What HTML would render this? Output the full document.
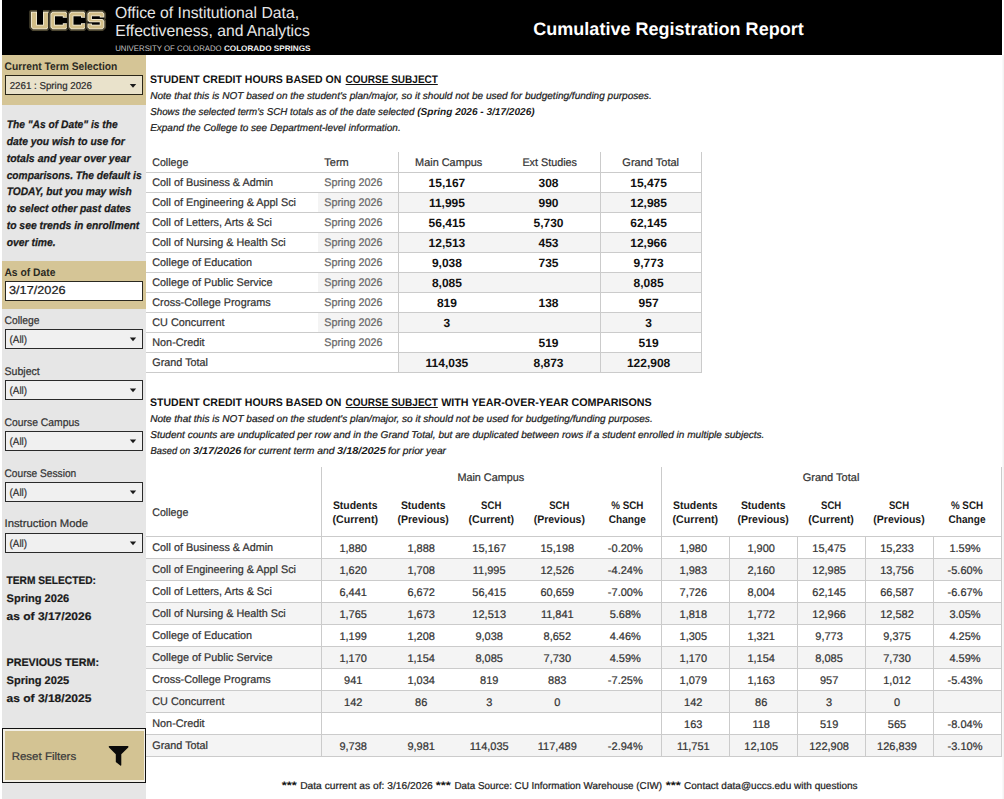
<!DOCTYPE html>
<html><head><meta charset="utf-8"><title>Cumulative Registration Report</title>
<style>
html,body{margin:0;padding:0;background:#fff;}
body{width:1004px;height:799px;overflow:hidden;}
svg{display:block;font-family:"Liberation Sans",sans-serif;}
</style></head><body>
<svg width="1004" height="799" viewBox="0 0 1004 799" text-rendering="geometricPrecision">
<rect x="2" y="0" width="1000" height="55" fill="#000" />
<path d="M28.70,11.80 L28.70,27.30 L28.71,27.53 L28.74,27.75 L28.80,27.97 L28.88,28.18 L28.97,28.38 L29.09,28.58 L29.22,28.76 L29.37,28.93 L31.37,30.93 L31.54,31.08 L31.72,31.21 L31.92,31.33 L32.12,31.42 L32.33,31.50 L32.55,31.56 L32.77,31.59 L33.00,31.60 L46.70,31.60 L46.93,31.59 L47.15,31.56 L47.37,31.50 L47.58,31.42 L47.78,31.33 L47.98,31.21 L48.16,31.08 L48.33,30.93 L50.33,28.93 L50.48,28.76 L50.61,28.58 L50.73,28.38 L50.82,28.18 L50.90,27.97 L50.96,27.75 L50.99,27.53 L51.00,27.30 L51.00,11.80 L50.99,11.57 L50.96,11.35 L50.90,11.13 L50.82,10.92 L50.73,10.72 L50.61,10.52 L50.48,10.34 L50.33,10.17 L50.16,10.02 L49.98,9.89 L49.78,9.77 L49.58,9.68 L49.37,9.60 L49.15,9.54 L48.93,9.51 L48.70,9.50 L43.00,9.50 L42.77,9.51 L42.55,9.54 L42.33,9.60 L42.12,9.68 L41.92,9.77 L41.72,9.89 L41.54,10.02 L41.37,10.17 L41.22,10.34 L41.09,10.52 L40.97,10.72 L40.88,10.92 L40.80,11.13 L40.74,11.35 L40.71,11.57 L40.70,11.80 L40.70,22.40 L39.30,22.40 L39.30,11.80 L39.29,11.57 L39.26,11.35 L39.20,11.13 L39.12,10.92 L39.03,10.72 L38.91,10.52 L38.78,10.34 L38.63,10.17 L38.46,10.02 L38.28,9.89 L38.08,9.77 L37.88,9.68 L37.67,9.60 L37.45,9.54 L37.23,9.51 L37.00,9.50 L31.00,9.50 L30.77,9.51 L30.55,9.54 L30.33,9.60 L30.12,9.68 L29.92,9.77 L29.72,9.89 L29.54,10.02 L29.37,10.17 L29.22,10.34 L29.09,10.52 L28.97,10.72 L28.88,10.92 L28.80,11.13 L28.74,11.35 L28.71,11.57 Z" fill="#050505"/>
<path d="M29.30,11.80 L29.30,27.30 L29.31,27.47 L29.33,27.63 L29.37,27.79 L29.43,27.95 L29.50,28.10 L29.59,28.24 L29.69,28.38 L29.80,28.50 L31.80,30.50 L31.92,30.61 L32.06,30.71 L32.20,30.80 L32.35,30.87 L32.51,30.93 L32.67,30.97 L32.83,30.99 L33.00,31.00 L46.70,31.00 L46.87,30.99 L47.03,30.97 L47.19,30.93 L47.35,30.87 L47.50,30.80 L47.64,30.71 L47.78,30.61 L47.90,30.50 L49.90,28.50 L50.01,28.38 L50.11,28.24 L50.20,28.10 L50.27,27.95 L50.33,27.79 L50.37,27.63 L50.39,27.47 L50.40,27.30 L50.40,11.80 L50.39,11.63 L50.37,11.47 L50.33,11.31 L50.27,11.15 L50.20,11.00 L50.11,10.86 L50.01,10.72 L49.90,10.60 L49.78,10.49 L49.64,10.39 L49.50,10.30 L49.35,10.23 L49.19,10.17 L49.03,10.13 L48.87,10.11 L48.70,10.10 L43.00,10.10 L42.83,10.11 L42.67,10.13 L42.51,10.17 L42.35,10.23 L42.20,10.30 L42.06,10.39 L41.92,10.49 L41.80,10.60 L41.69,10.72 L41.59,10.86 L41.50,11.00 L41.43,11.15 L41.37,11.31 L41.33,11.47 L41.31,11.63 L41.30,11.80 L41.30,23.00 L38.70,23.00 L38.70,11.80 L38.69,11.63 L38.67,11.47 L38.63,11.31 L38.57,11.15 L38.50,11.00 L38.41,10.86 L38.31,10.72 L38.20,10.60 L38.08,10.49 L37.94,10.39 L37.80,10.30 L37.65,10.23 L37.49,10.17 L37.33,10.13 L37.17,10.11 L37.00,10.10 L31.00,10.10 L30.83,10.11 L30.67,10.13 L30.51,10.17 L30.35,10.23 L30.20,10.30 L30.06,10.39 L29.92,10.49 L29.80,10.60 L29.69,10.72 L29.59,10.86 L29.50,11.00 L29.43,11.15 L29.37,11.31 L29.33,11.47 L29.31,11.63 Z" fill="#4c4631"/>
<rect x="37" y="8" width="6" height="16.7" fill="#000"/>
<path d="M31.00,11.80 L37.00,11.80 L37.00,24.70 L43.00,24.70 L43.00,11.80 L48.70,11.80 L48.70,27.30 L46.70,29.30 L33.00,29.30 L31.00,27.30 Z" fill="#f4efdc"/>
<path d="M31.80,12.60 L31.80,26.97 L33.33,28.50 L46.37,28.50 L47.90,26.97 L47.90,12.60 L43.80,12.60 L43.80,25.50 L36.20,25.50 L36.20,12.60 Z" fill="#d2be88"/>
<path d="M50.87,10.17 L48.87,12.17 L48.72,12.34 L48.59,12.52 L48.47,12.72 L48.38,12.92 L48.30,13.13 L48.24,13.35 L48.21,13.57 L48.20,13.80 L48.20,27.30 L48.21,27.53 L48.24,27.75 L48.30,27.97 L48.38,28.18 L48.47,28.38 L48.59,28.58 L48.72,28.76 L48.87,28.93 L50.87,30.93 L51.04,31.08 L51.22,31.21 L51.42,31.33 L51.62,31.42 L51.83,31.50 L52.05,31.56 L52.27,31.59 L52.50,31.60 L65.50,31.60 L65.73,31.59 L65.95,31.56 L66.17,31.50 L66.38,31.42 L66.58,31.33 L66.78,31.21 L66.96,31.08 L67.13,30.93 L69.13,28.93 L69.28,28.76 L69.41,28.58 L69.53,28.38 L69.62,28.18 L69.70,27.97 L69.76,27.75 L69.79,27.53 L69.80,27.30 L69.80,23.20 L69.79,22.97 L69.76,22.75 L69.70,22.53 L69.62,22.32 L69.53,22.12 L69.41,21.92 L69.28,21.74 L69.13,21.57 L68.96,21.42 L68.78,21.29 L68.58,21.17 L68.38,21.08 L68.17,21.00 L67.95,20.94 L67.73,20.91 L67.50,20.90 L62.80,20.90 L62.57,20.91 L62.35,20.94 L62.13,21.00 L61.92,21.08 L61.72,21.17 L61.52,21.29 L61.34,21.42 L61.17,21.57 L61.02,21.74 L60.89,21.92 L60.77,22.12 L60.68,22.32 L60.65,22.40 L57.20,22.40 L57.20,18.50 L60.61,18.50 L60.68,18.68 L60.77,18.88 L60.89,19.08 L61.02,19.26 L61.17,19.43 L61.34,19.58 L61.52,19.71 L61.72,19.83 L61.92,19.92 L62.13,20.00 L62.35,20.06 L62.57,20.09 L62.80,20.10 L67.50,20.10 L67.73,20.09 L67.95,20.06 L68.17,20.00 L68.38,19.92 L68.58,19.83 L68.78,19.71 L68.96,19.58 L69.13,19.43 L69.28,19.26 L69.41,19.08 L69.53,18.88 L69.62,18.68 L69.70,18.47 L69.76,18.25 L69.79,18.03 L69.80,17.80 L69.80,13.80 L69.79,13.57 L69.76,13.35 L69.70,13.13 L69.62,12.92 L69.53,12.72 L69.41,12.52 L69.28,12.34 L69.13,12.17 L67.13,10.17 L66.96,10.02 L66.78,9.89 L66.58,9.77 L66.38,9.68 L66.17,9.60 L65.95,9.54 L65.73,9.51 L65.50,9.50 L52.50,9.50 L52.27,9.51 L52.05,9.54 L51.83,9.60 L51.62,9.68 L51.42,9.77 L51.22,9.89 L51.04,10.02 Z" fill="#050505"/>
<path d="M51.30,10.60 L49.30,12.60 L49.19,12.72 L49.09,12.86 L49.00,13.00 L48.93,13.15 L48.87,13.31 L48.83,13.47 L48.81,13.63 L48.80,13.80 L48.80,27.30 L48.81,27.47 L48.83,27.63 L48.87,27.79 L48.93,27.95 L49.00,28.10 L49.09,28.24 L49.19,28.38 L49.30,28.50 L51.30,30.50 L51.42,30.61 L51.56,30.71 L51.70,30.80 L51.85,30.87 L52.01,30.93 L52.17,30.97 L52.33,30.99 L52.50,31.00 L65.50,31.00 L65.67,30.99 L65.83,30.97 L65.99,30.93 L66.15,30.87 L66.30,30.80 L66.44,30.71 L66.58,30.61 L66.70,30.50 L68.70,28.50 L68.81,28.38 L68.91,28.24 L69.00,28.10 L69.07,27.95 L69.13,27.79 L69.17,27.63 L69.19,27.47 L69.20,27.30 L69.20,23.20 L69.19,23.03 L69.17,22.87 L69.13,22.71 L69.07,22.55 L69.00,22.40 L68.91,22.26 L68.81,22.12 L68.70,22.00 L68.58,21.89 L68.44,21.79 L68.30,21.70 L68.15,21.63 L67.99,21.57 L67.83,21.53 L67.67,21.51 L67.50,21.50 L62.80,21.50 L62.63,21.51 L62.47,21.53 L62.31,21.57 L62.15,21.63 L62.00,21.70 L61.86,21.79 L61.72,21.89 L61.60,22.00 L61.49,22.12 L61.39,22.26 L61.30,22.40 L61.23,22.55 L61.17,22.71 L61.13,22.87 L61.11,23.00 L56.60,23.00 L56.60,17.90 L61.10,17.90 L61.11,17.97 L61.13,18.13 L61.17,18.29 L61.23,18.45 L61.30,18.60 L61.39,18.74 L61.49,18.88 L61.60,19.00 L61.72,19.11 L61.86,19.21 L62.00,19.30 L62.15,19.37 L62.31,19.43 L62.47,19.47 L62.63,19.49 L62.80,19.50 L67.50,19.50 L67.67,19.49 L67.83,19.47 L67.99,19.43 L68.15,19.37 L68.30,19.30 L68.44,19.21 L68.58,19.11 L68.70,19.00 L68.81,18.88 L68.91,18.74 L69.00,18.60 L69.07,18.45 L69.13,18.29 L69.17,18.13 L69.19,17.97 L69.20,17.80 L69.20,13.80 L69.19,13.63 L69.17,13.47 L69.13,13.31 L69.07,13.15 L69.00,13.00 L68.91,12.86 L68.81,12.72 L68.70,12.60 L66.70,10.60 L66.58,10.49 L66.44,10.39 L66.30,10.30 L66.15,10.23 L65.99,10.17 L65.83,10.13 L65.67,10.11 L65.50,10.10 L52.50,10.10 L52.33,10.11 L52.17,10.13 L52.01,10.17 L51.85,10.23 L51.70,10.30 L51.56,10.39 L51.42,10.49 Z" fill="#4c4631"/>
<rect x="54.9" y="16.2" width="12.6" height="8.5" fill="#000"/>
<path d="M52.50,11.80 L65.50,11.80 L67.50,13.80 L67.50,17.80 L62.80,17.80 L62.80,16.20 L54.90,16.20 L54.90,24.70 L62.80,24.70 L62.80,23.20 L67.50,23.20 L67.50,27.30 L65.50,29.30 L52.50,29.30 L50.50,27.30 L50.50,13.80 Z" fill="#f4efdc"/>
<path d="M52.83,12.60 L51.30,14.13 L51.30,26.97 L52.83,28.50 L65.17,28.50 L66.70,26.97 L66.70,24.00 L63.60,24.00 L63.60,25.50 L54.10,25.50 L54.10,15.40 L63.60,15.40 L63.60,17.00 L66.70,17.00 L66.70,14.13 L65.17,12.60 Z" fill="#d2be88"/>
<path d="M69.57,10.17 L67.57,12.17 L67.42,12.34 L67.29,12.52 L67.17,12.72 L67.08,12.92 L67.00,13.13 L66.94,13.35 L66.91,13.57 L66.90,13.80 L66.90,27.30 L66.91,27.53 L66.94,27.75 L67.00,27.97 L67.08,28.18 L67.17,28.38 L67.29,28.58 L67.42,28.76 L67.57,28.93 L69.57,30.93 L69.74,31.08 L69.92,31.21 L70.12,31.33 L70.32,31.42 L70.53,31.50 L70.75,31.56 L70.97,31.59 L71.20,31.60 L83.70,31.60 L83.93,31.59 L84.15,31.56 L84.37,31.50 L84.58,31.42 L84.78,31.33 L84.98,31.21 L85.16,31.08 L85.33,30.93 L87.33,28.93 L87.48,28.76 L87.61,28.58 L87.73,28.38 L87.82,28.18 L87.90,27.97 L87.96,27.75 L87.99,27.53 L88.00,27.30 L88.00,23.20 L87.99,22.97 L87.96,22.75 L87.90,22.53 L87.82,22.32 L87.73,22.12 L87.61,21.92 L87.48,21.74 L87.33,21.57 L87.16,21.42 L86.98,21.29 L86.78,21.17 L86.58,21.08 L86.37,21.00 L86.15,20.94 L85.93,20.91 L85.70,20.90 L81.00,20.90 L80.77,20.91 L80.55,20.94 L80.33,21.00 L80.12,21.08 L79.92,21.17 L79.72,21.29 L79.54,21.42 L79.37,21.57 L79.22,21.74 L79.09,21.92 L78.97,22.12 L78.88,22.32 L78.85,22.40 L75.70,22.40 L75.70,18.50 L78.81,18.50 L78.88,18.68 L78.97,18.88 L79.09,19.08 L79.22,19.26 L79.37,19.43 L79.54,19.58 L79.72,19.71 L79.92,19.83 L80.12,19.92 L80.33,20.00 L80.55,20.06 L80.77,20.09 L81.00,20.10 L85.70,20.10 L85.93,20.09 L86.15,20.06 L86.37,20.00 L86.58,19.92 L86.78,19.83 L86.98,19.71 L87.16,19.58 L87.33,19.43 L87.48,19.26 L87.61,19.08 L87.73,18.88 L87.82,18.68 L87.90,18.47 L87.96,18.25 L87.99,18.03 L88.00,17.80 L88.00,13.80 L87.99,13.57 L87.96,13.35 L87.90,13.13 L87.82,12.92 L87.73,12.72 L87.61,12.52 L87.48,12.34 L87.33,12.17 L85.33,10.17 L85.16,10.02 L84.98,9.89 L84.78,9.77 L84.58,9.68 L84.37,9.60 L84.15,9.54 L83.93,9.51 L83.70,9.50 L71.20,9.50 L70.97,9.51 L70.75,9.54 L70.53,9.60 L70.32,9.68 L70.12,9.77 L69.92,9.89 L69.74,10.02 Z" fill="#050505"/>
<path d="M70.00,10.60 L68.00,12.60 L67.89,12.72 L67.79,12.86 L67.70,13.00 L67.63,13.15 L67.57,13.31 L67.53,13.47 L67.51,13.63 L67.50,13.80 L67.50,27.30 L67.51,27.47 L67.53,27.63 L67.57,27.79 L67.63,27.95 L67.70,28.10 L67.79,28.24 L67.89,28.38 L68.00,28.50 L70.00,30.50 L70.12,30.61 L70.26,30.71 L70.40,30.80 L70.55,30.87 L70.71,30.93 L70.87,30.97 L71.03,30.99 L71.20,31.00 L83.70,31.00 L83.87,30.99 L84.03,30.97 L84.19,30.93 L84.35,30.87 L84.50,30.80 L84.64,30.71 L84.78,30.61 L84.90,30.50 L86.90,28.50 L87.01,28.38 L87.11,28.24 L87.20,28.10 L87.27,27.95 L87.33,27.79 L87.37,27.63 L87.39,27.47 L87.40,27.30 L87.40,23.20 L87.39,23.03 L87.37,22.87 L87.33,22.71 L87.27,22.55 L87.20,22.40 L87.11,22.26 L87.01,22.12 L86.90,22.00 L86.78,21.89 L86.64,21.79 L86.50,21.70 L86.35,21.63 L86.19,21.57 L86.03,21.53 L85.87,21.51 L85.70,21.50 L81.00,21.50 L80.83,21.51 L80.67,21.53 L80.51,21.57 L80.35,21.63 L80.20,21.70 L80.06,21.79 L79.92,21.89 L79.80,22.00 L79.69,22.12 L79.59,22.26 L79.50,22.40 L79.43,22.55 L79.37,22.71 L79.33,22.87 L79.31,23.00 L75.10,23.00 L75.10,17.90 L79.30,17.90 L79.31,17.97 L79.33,18.13 L79.37,18.29 L79.43,18.45 L79.50,18.60 L79.59,18.74 L79.69,18.88 L79.80,19.00 L79.92,19.11 L80.06,19.21 L80.20,19.30 L80.35,19.37 L80.51,19.43 L80.67,19.47 L80.83,19.49 L81.00,19.50 L85.70,19.50 L85.87,19.49 L86.03,19.47 L86.19,19.43 L86.35,19.37 L86.50,19.30 L86.64,19.21 L86.78,19.11 L86.90,19.00 L87.01,18.88 L87.11,18.74 L87.20,18.60 L87.27,18.45 L87.33,18.29 L87.37,18.13 L87.39,17.97 L87.40,17.80 L87.40,13.80 L87.39,13.63 L87.37,13.47 L87.33,13.31 L87.27,13.15 L87.20,13.00 L87.11,12.86 L87.01,12.72 L86.90,12.60 L84.90,10.60 L84.78,10.49 L84.64,10.39 L84.50,10.30 L84.35,10.23 L84.19,10.17 L84.03,10.13 L83.87,10.11 L83.70,10.10 L71.20,10.10 L71.03,10.11 L70.87,10.13 L70.71,10.17 L70.55,10.23 L70.40,10.30 L70.26,10.39 L70.12,10.49 Z" fill="#4c4631"/>
<rect x="73.4" y="16.2" width="12.3" height="8.5" fill="#000"/>
<path d="M71.20,11.80 L83.70,11.80 L85.70,13.80 L85.70,17.80 L81.00,17.80 L81.00,16.20 L73.40,16.20 L73.40,24.70 L81.00,24.70 L81.00,23.20 L85.70,23.20 L85.70,27.30 L83.70,29.30 L71.20,29.30 L69.20,27.30 L69.20,13.80 Z" fill="#f4efdc"/>
<path d="M71.53,12.60 L70.00,14.13 L70.00,26.97 L71.53,28.50 L83.37,28.50 L84.90,26.97 L84.90,24.00 L81.80,24.00 L81.80,25.50 L72.60,25.50 L72.60,15.40 L81.80,15.40 L81.80,17.00 L84.90,17.00 L84.90,14.13 L83.37,12.60 Z" fill="#d2be88"/>
<path d="M85.90,21.85 L85.87,21.87 L85.72,22.04 L85.59,22.22 L85.47,22.42 L85.38,22.62 L85.30,22.83 L85.24,23.05 L85.21,23.27 L85.20,23.50 L85.20,27.30 L85.21,27.53 L85.24,27.75 L85.30,27.97 L85.38,28.18 L85.47,28.38 L85.59,28.58 L85.72,28.76 L85.87,28.93 L87.87,30.93 L88.04,31.08 L88.22,31.21 L88.42,31.33 L88.62,31.42 L88.83,31.50 L89.05,31.56 L89.27,31.59 L89.50,31.60 L102.30,31.60 L102.53,31.59 L102.75,31.56 L102.97,31.50 L103.18,31.42 L103.38,31.33 L103.58,31.21 L103.76,31.08 L103.93,30.93 L105.93,28.93 L106.08,28.76 L106.21,28.58 L106.33,28.38 L106.42,28.18 L106.50,27.97 L106.56,27.75 L106.59,27.53 L106.60,27.30 L106.60,20.90 L106.59,20.67 L106.56,20.45 L106.50,20.23 L106.42,20.02 L106.33,19.82 L106.21,19.62 L106.08,19.44 L105.93,19.27 L105.90,19.25 L105.93,19.23 L106.08,19.06 L106.21,18.88 L106.33,18.68 L106.42,18.48 L106.50,18.27 L106.56,18.05 L106.59,17.83 L106.60,17.60 L106.60,13.80 L106.59,13.57 L106.56,13.35 L106.50,13.13 L106.42,12.92 L106.33,12.72 L106.21,12.52 L106.08,12.34 L105.93,12.17 L103.93,10.17 L103.76,10.02 L103.58,9.89 L103.38,9.77 L103.18,9.68 L102.97,9.60 L102.75,9.54 L102.53,9.51 L102.30,9.50 L89.50,9.50 L89.27,9.51 L89.05,9.54 L88.83,9.60 L88.62,9.68 L88.42,9.77 L88.22,9.89 L88.04,10.02 L87.87,10.17 L85.87,12.17 L85.72,12.34 L85.59,12.52 L85.47,12.72 L85.38,12.92 L85.30,13.13 L85.24,13.35 L85.21,13.57 L85.20,13.80 L85.20,20.20 L85.21,20.43 L85.24,20.65 L85.30,20.87 L85.38,21.08 L85.47,21.28 L85.59,21.48 L85.72,21.66 L85.87,21.83 Z" fill="#050505"/>
<path d="M86.83,21.94 L86.70,22.00 L86.56,22.09 L86.42,22.19 L86.30,22.30 L86.19,22.42 L86.09,22.56 L86.00,22.70 L85.93,22.85 L85.87,23.01 L85.83,23.17 L85.81,23.33 L85.80,23.50 L85.80,27.30 L85.81,27.47 L85.83,27.63 L85.87,27.79 L85.93,27.95 L86.00,28.10 L86.09,28.24 L86.19,28.38 L86.30,28.50 L88.30,30.50 L88.42,30.61 L88.56,30.71 L88.70,30.80 L88.85,30.87 L89.01,30.93 L89.17,30.97 L89.33,30.99 L89.50,31.00 L102.30,31.00 L102.47,30.99 L102.63,30.97 L102.79,30.93 L102.95,30.87 L103.10,30.80 L103.24,30.71 L103.38,30.61 L103.50,30.50 L105.50,28.50 L105.61,28.38 L105.71,28.24 L105.80,28.10 L105.87,27.95 L105.93,27.79 L105.97,27.63 L105.99,27.47 L106.00,27.30 L106.00,20.90 L105.99,20.73 L105.97,20.57 L105.93,20.41 L105.87,20.25 L105.80,20.10 L105.71,19.96 L105.61,19.82 L105.50,19.70 L104.97,19.16 L105.10,19.10 L105.24,19.01 L105.38,18.91 L105.50,18.80 L105.61,18.68 L105.71,18.54 L105.80,18.40 L105.87,18.25 L105.93,18.09 L105.97,17.93 L105.99,17.77 L106.00,17.60 L106.00,13.80 L105.99,13.63 L105.97,13.47 L105.93,13.31 L105.87,13.15 L105.80,13.00 L105.71,12.86 L105.61,12.72 L105.50,12.60 L103.50,10.60 L103.38,10.49 L103.24,10.39 L103.10,10.30 L102.95,10.23 L102.79,10.17 L102.63,10.13 L102.47,10.11 L102.30,10.10 L89.50,10.10 L89.33,10.11 L89.17,10.13 L89.01,10.17 L88.85,10.23 L88.70,10.30 L88.56,10.39 L88.42,10.49 L88.30,10.60 L86.30,12.60 L86.19,12.72 L86.09,12.86 L86.00,13.00 L85.93,13.15 L85.87,13.31 L85.83,13.47 L85.81,13.63 L85.80,13.80 L85.80,20.20 L85.81,20.37 L85.83,20.53 L85.87,20.69 L85.93,20.85 L86.00,21.00 L86.09,21.14 L86.19,21.28 L86.30,21.40 Z" fill="#4c4631"/>
<rect x="91.9" y="16.2" width="12.4" height="2.7" fill="#000"/>
<rect x="87.5" y="22.2" width="12.3" height="2.5" fill="#000"/>
<path d="M89.50,11.80 L102.30,11.80 L104.30,13.80 L104.30,17.60 L99.80,17.60 L99.80,16.20 L91.90,16.20 L91.90,18.90 L102.30,18.90 L104.30,20.90 L104.30,27.30 L102.30,29.30 L89.50,29.30 L87.50,27.30 L87.50,23.50 L91.90,23.50 L91.90,24.70 L99.80,24.70 L99.80,22.20 L89.50,22.20 L87.50,20.20 L87.50,13.80 Z" fill="#f4efdc"/>
<path d="M89.83,12.60 L88.30,14.13 L88.30,19.87 L89.83,21.40 L100.60,21.40 L100.60,25.50 L91.10,25.50 L91.10,24.30 L88.30,24.30 L88.30,26.97 L89.83,28.50 L101.97,28.50 L103.50,26.97 L103.50,21.23 L101.97,19.70 L91.10,19.70 L91.10,15.40 L100.60,15.40 L100.60,16.80 L103.50,16.80 L103.50,14.13 L101.97,12.60 Z" fill="#d2be88"/>
<text x="115" y="17.6" font-size="16" fill="#e6e6e6" textLength="184" lengthAdjust="spacingAndGlyphs" >Office of Institutional Data,</text>
<text x="115.2" y="35.5" font-size="16" fill="#e6e6e6" textLength="194.6" lengthAdjust="spacingAndGlyphs" >Effectiveness, and Analytics</text>
<text x="115.2" y="50.6" font-size="8" fill="#c4c4c4" textLength="106.5" lengthAdjust="spacingAndGlyphs" >UNIVERSITY OF COLORADO</text>
<text x="223.9" y="50.6" font-size="8" font-weight="700" fill="#f4f4f4" textLength="86.6" lengthAdjust="spacingAndGlyphs" >COLORADO SPRINGS</text>
<text x="533.3" y="34.6" font-size="18" font-weight="700" fill="#ffffff" textLength="270.4" lengthAdjust="spacingAndGlyphs" >Cumulative Registration Report</text>
<rect x="2" y="55" width="144" height="744" fill="#e6e6e6" />
<rect x="2" y="55" width="144" height="50" fill="#d5c596" />
<rect x="2" y="261" width="144" height="48" fill="#d5c596" />
<text x="4.5" y="69.9" font-size="11" font-weight="700" fill="#2b2a22" textLength="112.8" lengthAdjust="spacingAndGlyphs" >Current Term Selection</text>
<rect x="5.5" y="75.5" width="137" height="19" fill="#e9e2cb" stroke="#2a2618" stroke-width="1" />
<text x="9.7" y="88.6" font-size="10" fill="#2b2b2b" stroke="#2b2b2b" stroke-width="0.22" textLength="82.2" lengthAdjust="spacingAndGlyphs" >2261 : Spring 2026</text>
<path d="M129.8,84.0 L136.2,84.0 L133,87.7 Z" fill="#1a1a1a"/>
<text x="6.7" y="127.9" font-size="11" font-weight="700" font-style="italic" fill="#1a1a1a" textLength="111.0" lengthAdjust="spacingAndGlyphs" stroke="#1a1a1a" stroke-width="0.25">The &quot;As of Date&quot; is the</text>
<text x="6.7" y="144.77" font-size="11" font-weight="700" font-style="italic" fill="#1a1a1a" textLength="118.1" lengthAdjust="spacingAndGlyphs" stroke="#1a1a1a" stroke-width="0.25">date you wish to use for</text>
<text x="6.7" y="161.64000000000001" font-size="11" font-weight="700" font-style="italic" fill="#1a1a1a" textLength="123.8" lengthAdjust="spacingAndGlyphs" stroke="#1a1a1a" stroke-width="0.25">totals and year over year</text>
<text x="6.7" y="178.51" font-size="11" font-weight="700" font-style="italic" fill="#1a1a1a" textLength="134.9" lengthAdjust="spacingAndGlyphs" stroke="#1a1a1a" stroke-width="0.25">comparisons. The default is</text>
<text x="6.7" y="195.38" font-size="11" font-weight="700" font-style="italic" fill="#1a1a1a" textLength="125.1" lengthAdjust="spacingAndGlyphs" stroke="#1a1a1a" stroke-width="0.25">TODAY, but you may wish</text>
<text x="6.7" y="212.25" font-size="11" font-weight="700" font-style="italic" fill="#1a1a1a" textLength="124.4" lengthAdjust="spacingAndGlyphs" stroke="#1a1a1a" stroke-width="0.25">to select other past dates</text>
<text x="6.7" y="229.12" font-size="11" font-weight="700" font-style="italic" fill="#1a1a1a" textLength="132.6" lengthAdjust="spacingAndGlyphs" stroke="#1a1a1a" stroke-width="0.25">to see trends in enrollment</text>
<text x="6.7" y="245.99" font-size="11" font-weight="700" font-style="italic" fill="#1a1a1a" textLength="49.0" lengthAdjust="spacingAndGlyphs" stroke="#1a1a1a" stroke-width="0.25">over time.</text>
<text x="4.4" y="275.8" font-size="11" font-weight="700" fill="#2b2a22" textLength="51" lengthAdjust="spacingAndGlyphs" >As of Date</text>
<rect x="5.5" y="281.5" width="137" height="19" fill="#ffffff" stroke="#2a2820" stroke-width="1" />
<text x="9.0" y="293.8" font-size="11.5" fill="#1a1a1a" stroke="#1a1a1a" stroke-width="0.22" textLength="56.6" lengthAdjust="spacingAndGlyphs" >3/17/2026</text>
<text x="4.5" y="324.0" font-size="11" fill="#333333" stroke="#333333" stroke-width="0.22" textLength="35" lengthAdjust="spacingAndGlyphs" >College</text>
<rect x="5.5" y="329.5" width="137" height="19" fill="#f0f0f0" stroke="#2a2a2a" stroke-width="1" />
<text x="9.6" y="343.0" font-size="10.5" fill="#333333" stroke="#333333" stroke-width="0.22" textLength="17.5" lengthAdjust="spacingAndGlyphs" >(All)</text>
<path d="M129.8,337.5 L136.2,337.5 L133,341.2 Z" fill="#1a1a1a"/>
<text x="4.5" y="374.85" font-size="11" fill="#333333" stroke="#333333" stroke-width="0.22" textLength="35.3" lengthAdjust="spacingAndGlyphs" >Subject</text>
<rect x="5.5" y="380.5" width="137" height="19" fill="#f0f0f0" stroke="#2a2a2a" stroke-width="1" />
<text x="9.6" y="394.0" font-size="10.5" fill="#333333" stroke="#333333" stroke-width="0.22" textLength="17.5" lengthAdjust="spacingAndGlyphs" >(All)</text>
<path d="M129.8,388.5 L136.2,388.5 L133,392.2 Z" fill="#1a1a1a"/>
<text x="4.5" y="425.7" font-size="11" fill="#333333" stroke="#333333" stroke-width="0.22" textLength="74.9" lengthAdjust="spacingAndGlyphs" >Course Campus</text>
<rect x="5.5" y="431.5" width="137" height="19" fill="#f0f0f0" stroke="#2a2a2a" stroke-width="1" />
<text x="9.6" y="445.0" font-size="10.5" fill="#333333" stroke="#333333" stroke-width="0.22" textLength="17.5" lengthAdjust="spacingAndGlyphs" >(All)</text>
<path d="M129.8,439.5 L136.2,439.5 L133,443.2 Z" fill="#1a1a1a"/>
<text x="4.5" y="476.55" font-size="11" fill="#333333" stroke="#333333" stroke-width="0.22" textLength="71.7" lengthAdjust="spacingAndGlyphs" >Course Session</text>
<rect x="5.5" y="482.5" width="137" height="19" fill="#f0f0f0" stroke="#2a2a2a" stroke-width="1" />
<text x="9.6" y="496.0" font-size="10.5" fill="#333333" stroke="#333333" stroke-width="0.22" textLength="17.5" lengthAdjust="spacingAndGlyphs" >(All)</text>
<path d="M129.8,490.5 L136.2,490.5 L133,494.2 Z" fill="#1a1a1a"/>
<text x="4.5" y="527.4" font-size="11" fill="#333333" stroke="#333333" stroke-width="0.22" textLength="83.6" lengthAdjust="spacingAndGlyphs" >Instruction Mode</text>
<rect x="5.5" y="533.5" width="137" height="19" fill="#f0f0f0" stroke="#2a2a2a" stroke-width="1" />
<text x="9.6" y="547.0" font-size="10.5" fill="#333333" stroke="#333333" stroke-width="0.22" textLength="17.5" lengthAdjust="spacingAndGlyphs" >(All)</text>
<path d="M129.8,541.5 L136.2,541.5 L133,545.1999999999999 Z" fill="#1a1a1a"/>
<text x="6.5" y="584.0" font-size="11" font-weight="700" fill="#1a1a1a" textLength="89.5" lengthAdjust="spacingAndGlyphs" stroke="#1a1a1a" stroke-width="0.2">TERM SELECTED:</text>
<text x="6.5" y="602.1" font-size="11" font-weight="700" fill="#1a1a1a" textLength="62.7" lengthAdjust="spacingAndGlyphs" stroke="#1a1a1a" stroke-width="0.2">Spring 2026</text>
<text x="6.5" y="619.9" font-size="11" font-weight="700" fill="#1a1a1a" textLength="84.9" lengthAdjust="spacingAndGlyphs" stroke="#1a1a1a" stroke-width="0.2">as of 3/17/2026</text>
<text x="6.5" y="666.0" font-size="11" font-weight="700" fill="#1a1a1a" textLength="92.5" lengthAdjust="spacingAndGlyphs" stroke="#1a1a1a" stroke-width="0.2">PREVIOUS TERM:</text>
<text x="6.5" y="683.9" font-size="11" font-weight="700" fill="#1a1a1a" textLength="62.7" lengthAdjust="spacingAndGlyphs" stroke="#1a1a1a" stroke-width="0.2">Spring 2025</text>
<text x="6.5" y="701.7" font-size="11" font-weight="700" fill="#1a1a1a" textLength="84.9" lengthAdjust="spacingAndGlyphs" stroke="#1a1a1a" stroke-width="0.2">as of 3/18/2025</text>
<rect x="2.5" y="728.5" width="143" height="54" fill="#f2efe6" stroke="#111" stroke-width="1" />
<rect x="5" y="731" width="139" height="49" fill="#d3c393" />
<text x="11.7" y="759.8" font-size="11" fill="#3a3a3a" stroke="#3a3a3a" stroke-width="0.22" textLength="64.5" lengthAdjust="spacingAndGlyphs" >Reset Filters</text>
<path d="M108.7,746.7 Q108.7,745.9 109.5,745.9 L127.7,745.9 Q128.5,745.9 128.5,746.7 L128.2,747.4 L121.3,754.2 L121.3,765.1 Q121.2,766.3 120.3,765.6 L115.8,762.1 L115.8,754.2 L109,747.4 Z" fill="#0a0a0a"/>
<text x="150" y="83" font-size="11" font-weight="700" fill="#111" textLength="191.4" lengthAdjust="spacingAndGlyphs" >STUDENT CREDIT HOURS BASED ON</text>
<text x="345.4" y="83" font-size="11" font-weight="700" fill="#111" textLength="92.6" lengthAdjust="spacingAndGlyphs" >COURSE SUBJECT</text>
<rect x="345.6" y="84" width="92.19999999999999" height="1" fill="#111"/>
<text x="150.2" y="98.9" font-size="10" font-style="italic" fill="#1a1a1a" stroke="#1a1a1a" stroke-width="0.22" textLength="501.5" lengthAdjust="spacingAndGlyphs" >Note that this is NOT based on the student&#x27;s plan/major, so it should not be used for budgeting/funding purposes.</text>
<text x="150.2" y="114.8" font-size="10" font-style="italic" fill="#1a1a1a" stroke="#1a1a1a" stroke-width="0.22" textLength="264.3" lengthAdjust="spacingAndGlyphs" >Shows the selected term&#x27;s SCH totals as of the date selected</text>
<text x="417.2" y="114.8" font-size="10" font-weight="700" font-style="italic" fill="#1a1a1a" textLength="117.4" lengthAdjust="spacingAndGlyphs" >(Spring 2026 - 3/17/2026)</text>
<text x="150.2" y="130.7" font-size="10" font-style="italic" fill="#1a1a1a" stroke="#1a1a1a" stroke-width="0.22" textLength="250.5" lengthAdjust="spacingAndGlyphs" >Expand the College to see Department-level information.</text>
<rect x="318" y="192" width="383" height="20" fill="#f4f4f4" />
<rect x="318" y="232" width="383" height="20" fill="#f4f4f4" />
<rect x="318" y="272" width="383" height="20" fill="#f4f4f4" />
<rect x="318" y="312" width="383" height="20" fill="#f4f4f4" />
<rect x="398" y="352" width="303" height="20" fill="#f4f4f4" />
<rect x="146" y="172" width="556" height="1" fill="#cbcbcb"/>
<rect x="146" y="192" width="556" height="1" fill="#cbcbcb"/>
<rect x="146" y="212" width="556" height="1" fill="#cbcbcb"/>
<rect x="146" y="232" width="556" height="1" fill="#cbcbcb"/>
<rect x="146" y="252" width="556" height="1" fill="#cbcbcb"/>
<rect x="146" y="272" width="556" height="1" fill="#cbcbcb"/>
<rect x="146" y="292" width="556" height="1" fill="#cbcbcb"/>
<rect x="146" y="312" width="556" height="1" fill="#cbcbcb"/>
<rect x="146" y="332" width="556" height="1" fill="#cbcbcb"/>
<rect x="146" y="352" width="556" height="1" fill="#cbcbcb"/>
<rect x="146" y="372" width="556" height="1" fill="#cbcbcb"/>
<rect x="398" y="152" width="1" height="220" fill="#cbcbcb"/>
<rect x="600" y="152" width="1" height="220" fill="#cbcbcb"/>
<rect x="701" y="152" width="1" height="221" fill="#cbcbcb"/>
<text x="152.3" y="165.6" font-size="11" fill="#333333" stroke="#333333" stroke-width="0.22" textLength="36.01" lengthAdjust="spacingAndGlyphs" >College</text>
<text x="324.3" y="165.6" font-size="11" fill="#333333" stroke="#333333" stroke-width="0.22" >Term</text>
<text x="448.7" y="165.6" font-size="11" fill="#333333" stroke="#333333" stroke-width="0.22" text-anchor="middle" textLength="67.18" lengthAdjust="spacingAndGlyphs" >Main Campus</text>
<text x="549.7" y="165.6" font-size="11" fill="#333333" stroke="#333333" stroke-width="0.22" text-anchor="middle" textLength="54.53" lengthAdjust="spacingAndGlyphs" >Ext Studies</text>
<text x="650.7" y="165.6" font-size="11" fill="#333333" stroke="#333333" stroke-width="0.22" text-anchor="middle" >Grand Total</text>
<text x="152.3" y="185.7" font-size="11" fill="#333333" stroke="#333333" stroke-width="0.22" textLength="120.80" lengthAdjust="spacingAndGlyphs" >Coll of Business &amp; Admin</text>
<text x="324.3" y="185.7" font-size="11" fill="#666666" stroke="#666666" stroke-width="0.22" textLength="58.14" lengthAdjust="spacingAndGlyphs" >Spring 2026</text>
<text x="446.9" y="186.9" font-size="12" font-weight="700" fill="#111" text-anchor="middle" >15,167</text>
<text x="548.5" y="186.9" font-size="12" font-weight="700" fill="#111" text-anchor="middle" >308</text>
<text x="648.6" y="186.9" font-size="12" font-weight="700" fill="#111" text-anchor="middle" >15,475</text>
<text x="152.3" y="205.7" font-size="11" fill="#333333" stroke="#333333" stroke-width="0.22" textLength="143.67" lengthAdjust="spacingAndGlyphs" >Coll of Engineering &amp; Appl Sci</text>
<text x="324.3" y="205.7" font-size="11" fill="#666666" stroke="#666666" stroke-width="0.22" textLength="58.14" lengthAdjust="spacingAndGlyphs" >Spring 2026</text>
<text x="446.9" y="206.9" font-size="12" font-weight="700" fill="#111" text-anchor="middle" >11,995</text>
<text x="548.5" y="206.9" font-size="12" font-weight="700" fill="#111" text-anchor="middle" >990</text>
<text x="648.6" y="206.9" font-size="12" font-weight="700" fill="#111" text-anchor="middle" >12,985</text>
<text x="152.3" y="225.7" font-size="11" fill="#333333" stroke="#333333" stroke-width="0.22" textLength="119.59" lengthAdjust="spacingAndGlyphs" >Coll of Letters, Arts &amp; Sci</text>
<text x="324.3" y="225.7" font-size="11" fill="#666666" stroke="#666666" stroke-width="0.22" textLength="58.14" lengthAdjust="spacingAndGlyphs" >Spring 2026</text>
<text x="446.9" y="226.9" font-size="12" font-weight="700" fill="#111" text-anchor="middle" >56,415</text>
<text x="548.5" y="226.9" font-size="12" font-weight="700" fill="#111" text-anchor="middle" >5,730</text>
<text x="648.6" y="226.9" font-size="12" font-weight="700" fill="#111" text-anchor="middle" >62,145</text>
<text x="152.3" y="245.7" font-size="11" fill="#333333" stroke="#333333" stroke-width="0.22" textLength="133.43" lengthAdjust="spacingAndGlyphs" >Coll of Nursing &amp; Health Sci</text>
<text x="324.3" y="245.7" font-size="11" fill="#666666" stroke="#666666" stroke-width="0.22" textLength="58.14" lengthAdjust="spacingAndGlyphs" >Spring 2026</text>
<text x="446.9" y="246.9" font-size="12" font-weight="700" fill="#111" text-anchor="middle" >12,513</text>
<text x="548.5" y="246.9" font-size="12" font-weight="700" fill="#111" text-anchor="middle" >453</text>
<text x="648.6" y="246.9" font-size="12" font-weight="700" fill="#111" text-anchor="middle" >12,966</text>
<text x="152.3" y="265.7" font-size="11" fill="#333333" stroke="#333333" stroke-width="0.22" textLength="99.79" lengthAdjust="spacingAndGlyphs" >College of Education</text>
<text x="324.3" y="265.7" font-size="11" fill="#666666" stroke="#666666" stroke-width="0.22" textLength="58.14" lengthAdjust="spacingAndGlyphs" >Spring 2026</text>
<text x="446.9" y="266.9" font-size="12" font-weight="700" fill="#111" text-anchor="middle" >9,038</text>
<text x="548.5" y="266.9" font-size="12" font-weight="700" fill="#111" text-anchor="middle" >735</text>
<text x="648.6" y="266.9" font-size="12" font-weight="700" fill="#111" text-anchor="middle" >9,773</text>
<text x="152.3" y="285.7" font-size="11" fill="#333333" stroke="#333333" stroke-width="0.22" textLength="120.22" lengthAdjust="spacingAndGlyphs" >College of Public Service</text>
<text x="324.3" y="285.7" font-size="11" fill="#666666" stroke="#666666" stroke-width="0.22" textLength="58.14" lengthAdjust="spacingAndGlyphs" >Spring 2026</text>
<text x="446.9" y="286.9" font-size="12" font-weight="700" fill="#111" text-anchor="middle" >8,085</text>
<text x="648.6" y="286.9" font-size="12" font-weight="700" fill="#111" text-anchor="middle" >8,085</text>
<text x="152.3" y="305.7" font-size="11" fill="#333333" stroke="#333333" stroke-width="0.22" textLength="118.39" lengthAdjust="spacingAndGlyphs" >Cross-College Programs</text>
<text x="324.3" y="305.7" font-size="11" fill="#666666" stroke="#666666" stroke-width="0.22" textLength="58.14" lengthAdjust="spacingAndGlyphs" >Spring 2026</text>
<text x="446.9" y="306.9" font-size="12" font-weight="700" fill="#111" text-anchor="middle" >819</text>
<text x="548.5" y="306.9" font-size="12" font-weight="700" fill="#111" text-anchor="middle" >138</text>
<text x="648.6" y="306.9" font-size="12" font-weight="700" fill="#111" text-anchor="middle" >957</text>
<text x="152.3" y="325.7" font-size="11" fill="#333333" stroke="#333333" stroke-width="0.22" textLength="72.11" lengthAdjust="spacingAndGlyphs" >CU Concurrent</text>
<text x="324.3" y="325.7" font-size="11" fill="#666666" stroke="#666666" stroke-width="0.22" textLength="58.14" lengthAdjust="spacingAndGlyphs" >Spring 2026</text>
<text x="446.9" y="326.9" font-size="12" font-weight="700" fill="#111" text-anchor="middle" >3</text>
<text x="648.6" y="326.9" font-size="12" font-weight="700" fill="#111" text-anchor="middle" >3</text>
<text x="152.3" y="345.7" font-size="11" fill="#333333" stroke="#333333" stroke-width="0.22" textLength="52.28" lengthAdjust="spacingAndGlyphs" >Non-Credit</text>
<text x="324.3" y="345.7" font-size="11" fill="#666666" stroke="#666666" stroke-width="0.22" textLength="58.14" lengthAdjust="spacingAndGlyphs" >Spring 2026</text>
<text x="548.5" y="346.9" font-size="12" font-weight="700" fill="#111" text-anchor="middle" >519</text>
<text x="648.6" y="346.9" font-size="12" font-weight="700" fill="#111" text-anchor="middle" >519</text>
<text x="152.3" y="365.7" font-size="11" fill="#333333" stroke="#333333" stroke-width="0.22" textLength="55.71" lengthAdjust="spacingAndGlyphs" >Grand Total</text>
<text x="446.9" y="366.9" font-size="12" font-weight="700" fill="#111" text-anchor="middle" >114,035</text>
<text x="548.5" y="366.9" font-size="12" font-weight="700" fill="#111" text-anchor="middle" >8,873</text>
<text x="648.6" y="366.9" font-size="12" font-weight="700" fill="#111" text-anchor="middle" >122,908</text>
<text x="150" y="405.9" font-size="11" font-weight="700" fill="#111" textLength="191.4" lengthAdjust="spacingAndGlyphs" >STUDENT CREDIT HOURS BASED ON</text>
<text x="345.4" y="405.9" font-size="11" font-weight="700" fill="#111" textLength="92.6" lengthAdjust="spacingAndGlyphs" >COURSE SUBJECT</text>
<rect x="345.6" y="407" width="92.19999999999999" height="1" fill="#111"/>
<text x="441.2" y="405.9" font-size="11" font-weight="700" fill="#111" textLength="210.6" lengthAdjust="spacingAndGlyphs" >WITH YEAR-OVER-YEAR COMPARISONS</text>
<text x="150.2" y="421.9" font-size="10" font-style="italic" fill="#1a1a1a" stroke="#1a1a1a" stroke-width="0.22" textLength="502.5" lengthAdjust="spacingAndGlyphs" >Note that this is NOT based on the student&#x27;s plan/major, so it should not be used for budgeting/funding purposes.</text>
<text x="150.2" y="437.9" font-size="10" font-style="italic" fill="#1a1a1a" stroke="#1a1a1a" stroke-width="0.22" textLength="614.2" lengthAdjust="spacingAndGlyphs" >Student counts are unduplicated per row and in the Grand Total, but are duplicated between rows if a student enrolled in multiple subjects.</text>
<text x="150.6" y="453.9" font-size="10" font-style="italic" fill="#1a1a1a" stroke="#1a1a1a" stroke-width="0.22" textLength="39.5" lengthAdjust="spacingAndGlyphs" >Based on</text>
<text x="192.9" y="453.9" font-size="10" font-weight="700" font-style="italic" fill="#1a1a1a" textLength="48.4" lengthAdjust="spacingAndGlyphs" >3/17/2026</text>
<text x="243.5" y="453.9" font-size="10" font-style="italic" fill="#1a1a1a" stroke="#1a1a1a" stroke-width="0.22" textLength="91" lengthAdjust="spacingAndGlyphs" >for current term and</text>
<text x="337" y="453.9" font-size="10" font-weight="700" font-style="italic" fill="#1a1a1a" textLength="48.8" lengthAdjust="spacingAndGlyphs" >3/18/2025</text>
<text x="388" y="453.9" font-size="10" font-style="italic" fill="#1a1a1a" stroke="#1a1a1a" stroke-width="0.22" textLength="58" lengthAdjust="spacingAndGlyphs" >for prior year</text>
<rect x="146" y="558" width="855.5" height="22" fill="#f4f4f4" />
<rect x="146" y="602" width="855.5" height="22" fill="#f4f4f4" />
<rect x="146" y="646" width="855.5" height="22" fill="#f4f4f4" />
<rect x="146" y="690" width="855.5" height="22" fill="#f4f4f4" />
<rect x="146" y="734" width="855.5" height="22" fill="#f4f4f4" />
<rect x="146" y="536" width="856" height="1" fill="#cbcbcb"/>
<rect x="146" y="558" width="856" height="1" fill="#cbcbcb"/>
<rect x="146" y="580" width="856" height="1" fill="#cbcbcb"/>
<rect x="146" y="602" width="856" height="1" fill="#cbcbcb"/>
<rect x="146" y="624" width="856" height="1" fill="#cbcbcb"/>
<rect x="146" y="646" width="856" height="1" fill="#cbcbcb"/>
<rect x="146" y="668" width="856" height="1" fill="#cbcbcb"/>
<rect x="146" y="690" width="856" height="1" fill="#cbcbcb"/>
<rect x="146" y="712" width="856" height="1" fill="#cbcbcb"/>
<rect x="146" y="734" width="856" height="1" fill="#cbcbcb"/>
<rect x="146" y="756" width="856" height="1" fill="#cbcbcb"/>
<rect x="321" y="467" width="1" height="289" fill="#cbcbcb"/>
<rect x="661" y="467" width="1" height="289" fill="#cbcbcb"/>
<rect x="729" y="536" width="1" height="220" fill="#cbcbcb"/>
<rect x="797" y="536" width="1" height="220" fill="#cbcbcb"/>
<rect x="865" y="536" width="1" height="220" fill="#cbcbcb"/>
<rect x="933" y="536" width="1" height="220" fill="#cbcbcb"/>
<rect x="1001" y="467" width="1" height="290" fill="#cbcbcb"/>
<text x="152.3" y="515.7" font-size="11" fill="#333333" stroke="#333333" stroke-width="0.22" textLength="36.01" lengthAdjust="spacingAndGlyphs" >College</text>
<text x="490.8" y="480.5" font-size="11" fill="#333333" stroke="#333333" stroke-width="0.22" text-anchor="middle" textLength="66.84" lengthAdjust="spacingAndGlyphs" >Main Campus</text>
<text x="831" y="480.5" font-size="11" fill="#333333" stroke="#333333" stroke-width="0.22" text-anchor="middle" >Grand Total</text>
<text x="355.2" y="509" font-size="11" font-weight="700" fill="#1a1a1a" text-anchor="middle" textLength="44.6" lengthAdjust="spacingAndGlyphs" >Students</text>
<text x="355.2" y="523.0" font-size="11" font-weight="700" fill="#1a1a1a" text-anchor="middle" textLength="45.6" lengthAdjust="spacingAndGlyphs" >(Current)</text>
<text x="423.2" y="509" font-size="11" font-weight="700" fill="#1a1a1a" text-anchor="middle" textLength="44.6" lengthAdjust="spacingAndGlyphs" >Students</text>
<text x="423.2" y="523.0" font-size="11" font-weight="700" fill="#1a1a1a" text-anchor="middle" textLength="51.3" lengthAdjust="spacingAndGlyphs" >(Previous)</text>
<text x="491.2" y="509" font-size="11" font-weight="700" fill="#1a1a1a" text-anchor="middle" textLength="20.2" lengthAdjust="spacingAndGlyphs" >SCH</text>
<text x="491.2" y="523.0" font-size="11" font-weight="700" fill="#1a1a1a" text-anchor="middle" textLength="45.6" lengthAdjust="spacingAndGlyphs" >(Current)</text>
<text x="559.3" y="509" font-size="11" font-weight="700" fill="#1a1a1a" text-anchor="middle" textLength="20.2" lengthAdjust="spacingAndGlyphs" >SCH</text>
<text x="559.3" y="523.0" font-size="11" font-weight="700" fill="#1a1a1a" text-anchor="middle" textLength="51.3" lengthAdjust="spacingAndGlyphs" >(Previous)</text>
<text x="627.3" y="509" font-size="11" font-weight="700" fill="#1a1a1a" text-anchor="middle" textLength="32.2" lengthAdjust="spacingAndGlyphs" >% SCH</text>
<text x="627.3" y="523.0" font-size="11" font-weight="700" fill="#1a1a1a" text-anchor="middle" textLength="37" lengthAdjust="spacingAndGlyphs" >Change</text>
<text x="695.3" y="509" font-size="11" font-weight="700" fill="#1a1a1a" text-anchor="middle" textLength="44.6" lengthAdjust="spacingAndGlyphs" >Students</text>
<text x="695.3" y="523.0" font-size="11" font-weight="700" fill="#1a1a1a" text-anchor="middle" textLength="45.6" lengthAdjust="spacingAndGlyphs" >(Current)</text>
<text x="763.2" y="509" font-size="11" font-weight="700" fill="#1a1a1a" text-anchor="middle" textLength="44.6" lengthAdjust="spacingAndGlyphs" >Students</text>
<text x="763.2" y="523.0" font-size="11" font-weight="700" fill="#1a1a1a" text-anchor="middle" textLength="51.3" lengthAdjust="spacingAndGlyphs" >(Previous)</text>
<text x="831.1" y="509" font-size="11" font-weight="700" fill="#1a1a1a" text-anchor="middle" textLength="20.2" lengthAdjust="spacingAndGlyphs" >SCH</text>
<text x="831.1" y="523.0" font-size="11" font-weight="700" fill="#1a1a1a" text-anchor="middle" textLength="45.6" lengthAdjust="spacingAndGlyphs" >(Current)</text>
<text x="899.0" y="509" font-size="11" font-weight="700" fill="#1a1a1a" text-anchor="middle" textLength="20.2" lengthAdjust="spacingAndGlyphs" >SCH</text>
<text x="899.0" y="523.0" font-size="11" font-weight="700" fill="#1a1a1a" text-anchor="middle" textLength="51.3" lengthAdjust="spacingAndGlyphs" >(Previous)</text>
<text x="967.0" y="509" font-size="11" font-weight="700" fill="#1a1a1a" text-anchor="middle" textLength="32.2" lengthAdjust="spacingAndGlyphs" >% SCH</text>
<text x="967.0" y="523.0" font-size="11" font-weight="700" fill="#1a1a1a" text-anchor="middle" textLength="37" lengthAdjust="spacingAndGlyphs" >Change</text>
<text x="152.3" y="550.6" font-size="11" fill="#333333" stroke="#333333" stroke-width="0.22" textLength="120.80" lengthAdjust="spacingAndGlyphs" >Coll of Business &amp; Admin</text>
<text x="353.2" y="551.6" font-size="11" fill="#333333" stroke="#333333" stroke-width="0.22" text-anchor="middle" >1,880</text>
<text x="421.2" y="551.6" font-size="11" fill="#333333" stroke="#333333" stroke-width="0.22" text-anchor="middle" >1,888</text>
<text x="489.2" y="551.6" font-size="11" fill="#333333" stroke="#333333" stroke-width="0.22" text-anchor="middle" >15,167</text>
<text x="557.3" y="551.6" font-size="11" fill="#333333" stroke="#333333" stroke-width="0.22" text-anchor="middle" >15,198</text>
<text x="625.3" y="551.6" font-size="11" fill="#333333" stroke="#333333" stroke-width="0.22" text-anchor="middle" >-0.20%</text>
<text x="693.3" y="551.6" font-size="11" fill="#333333" stroke="#333333" stroke-width="0.22" text-anchor="middle" >1,980</text>
<text x="761.2" y="551.6" font-size="11" fill="#333333" stroke="#333333" stroke-width="0.22" text-anchor="middle" >1,900</text>
<text x="829.1" y="551.6" font-size="11" fill="#333333" stroke="#333333" stroke-width="0.22" text-anchor="middle" >15,475</text>
<text x="897.0" y="551.6" font-size="11" fill="#333333" stroke="#333333" stroke-width="0.22" text-anchor="middle" >15,233</text>
<text x="965.0" y="551.6" font-size="11" fill="#333333" stroke="#333333" stroke-width="0.22" text-anchor="middle" >1.59%</text>
<text x="152.3" y="572.6" font-size="11" fill="#333333" stroke="#333333" stroke-width="0.22" textLength="143.67" lengthAdjust="spacingAndGlyphs" >Coll of Engineering &amp; Appl Sci</text>
<text x="353.2" y="573.6" font-size="11" fill="#333333" stroke="#333333" stroke-width="0.22" text-anchor="middle" >1,620</text>
<text x="421.2" y="573.6" font-size="11" fill="#333333" stroke="#333333" stroke-width="0.22" text-anchor="middle" >1,708</text>
<text x="489.2" y="573.6" font-size="11" fill="#333333" stroke="#333333" stroke-width="0.22" text-anchor="middle" >11,995</text>
<text x="557.3" y="573.6" font-size="11" fill="#333333" stroke="#333333" stroke-width="0.22" text-anchor="middle" >12,526</text>
<text x="625.3" y="573.6" font-size="11" fill="#333333" stroke="#333333" stroke-width="0.22" text-anchor="middle" >-4.24%</text>
<text x="693.3" y="573.6" font-size="11" fill="#333333" stroke="#333333" stroke-width="0.22" text-anchor="middle" >1,983</text>
<text x="761.2" y="573.6" font-size="11" fill="#333333" stroke="#333333" stroke-width="0.22" text-anchor="middle" >2,160</text>
<text x="829.1" y="573.6" font-size="11" fill="#333333" stroke="#333333" stroke-width="0.22" text-anchor="middle" >12,985</text>
<text x="897.0" y="573.6" font-size="11" fill="#333333" stroke="#333333" stroke-width="0.22" text-anchor="middle" >13,756</text>
<text x="965.0" y="573.6" font-size="11" fill="#333333" stroke="#333333" stroke-width="0.22" text-anchor="middle" >-5.60%</text>
<text x="152.3" y="594.6" font-size="11" fill="#333333" stroke="#333333" stroke-width="0.22" textLength="119.59" lengthAdjust="spacingAndGlyphs" >Coll of Letters, Arts &amp; Sci</text>
<text x="353.2" y="595.6" font-size="11" fill="#333333" stroke="#333333" stroke-width="0.22" text-anchor="middle" >6,441</text>
<text x="421.2" y="595.6" font-size="11" fill="#333333" stroke="#333333" stroke-width="0.22" text-anchor="middle" >6,672</text>
<text x="489.2" y="595.6" font-size="11" fill="#333333" stroke="#333333" stroke-width="0.22" text-anchor="middle" >56,415</text>
<text x="557.3" y="595.6" font-size="11" fill="#333333" stroke="#333333" stroke-width="0.22" text-anchor="middle" >60,659</text>
<text x="625.3" y="595.6" font-size="11" fill="#333333" stroke="#333333" stroke-width="0.22" text-anchor="middle" >-7.00%</text>
<text x="693.3" y="595.6" font-size="11" fill="#333333" stroke="#333333" stroke-width="0.22" text-anchor="middle" >7,726</text>
<text x="761.2" y="595.6" font-size="11" fill="#333333" stroke="#333333" stroke-width="0.22" text-anchor="middle" >8,004</text>
<text x="829.1" y="595.6" font-size="11" fill="#333333" stroke="#333333" stroke-width="0.22" text-anchor="middle" >62,145</text>
<text x="897.0" y="595.6" font-size="11" fill="#333333" stroke="#333333" stroke-width="0.22" text-anchor="middle" >66,587</text>
<text x="965.0" y="595.6" font-size="11" fill="#333333" stroke="#333333" stroke-width="0.22" text-anchor="middle" >-6.67%</text>
<text x="152.3" y="616.6" font-size="11" fill="#333333" stroke="#333333" stroke-width="0.22" textLength="133.43" lengthAdjust="spacingAndGlyphs" >Coll of Nursing &amp; Health Sci</text>
<text x="353.2" y="617.6" font-size="11" fill="#333333" stroke="#333333" stroke-width="0.22" text-anchor="middle" >1,765</text>
<text x="421.2" y="617.6" font-size="11" fill="#333333" stroke="#333333" stroke-width="0.22" text-anchor="middle" >1,673</text>
<text x="489.2" y="617.6" font-size="11" fill="#333333" stroke="#333333" stroke-width="0.22" text-anchor="middle" >12,513</text>
<text x="557.3" y="617.6" font-size="11" fill="#333333" stroke="#333333" stroke-width="0.22" text-anchor="middle" >11,841</text>
<text x="625.3" y="617.6" font-size="11" fill="#333333" stroke="#333333" stroke-width="0.22" text-anchor="middle" >5.68%</text>
<text x="693.3" y="617.6" font-size="11" fill="#333333" stroke="#333333" stroke-width="0.22" text-anchor="middle" >1,818</text>
<text x="761.2" y="617.6" font-size="11" fill="#333333" stroke="#333333" stroke-width="0.22" text-anchor="middle" >1,772</text>
<text x="829.1" y="617.6" font-size="11" fill="#333333" stroke="#333333" stroke-width="0.22" text-anchor="middle" >12,966</text>
<text x="897.0" y="617.6" font-size="11" fill="#333333" stroke="#333333" stroke-width="0.22" text-anchor="middle" >12,582</text>
<text x="965.0" y="617.6" font-size="11" fill="#333333" stroke="#333333" stroke-width="0.22" text-anchor="middle" >3.05%</text>
<text x="152.3" y="638.6" font-size="11" fill="#333333" stroke="#333333" stroke-width="0.22" textLength="99.79" lengthAdjust="spacingAndGlyphs" >College of Education</text>
<text x="353.2" y="639.6" font-size="11" fill="#333333" stroke="#333333" stroke-width="0.22" text-anchor="middle" >1,199</text>
<text x="421.2" y="639.6" font-size="11" fill="#333333" stroke="#333333" stroke-width="0.22" text-anchor="middle" >1,208</text>
<text x="489.2" y="639.6" font-size="11" fill="#333333" stroke="#333333" stroke-width="0.22" text-anchor="middle" >9,038</text>
<text x="557.3" y="639.6" font-size="11" fill="#333333" stroke="#333333" stroke-width="0.22" text-anchor="middle" >8,652</text>
<text x="625.3" y="639.6" font-size="11" fill="#333333" stroke="#333333" stroke-width="0.22" text-anchor="middle" >4.46%</text>
<text x="693.3" y="639.6" font-size="11" fill="#333333" stroke="#333333" stroke-width="0.22" text-anchor="middle" >1,305</text>
<text x="761.2" y="639.6" font-size="11" fill="#333333" stroke="#333333" stroke-width="0.22" text-anchor="middle" >1,321</text>
<text x="829.1" y="639.6" font-size="11" fill="#333333" stroke="#333333" stroke-width="0.22" text-anchor="middle" >9,773</text>
<text x="897.0" y="639.6" font-size="11" fill="#333333" stroke="#333333" stroke-width="0.22" text-anchor="middle" >9,375</text>
<text x="965.0" y="639.6" font-size="11" fill="#333333" stroke="#333333" stroke-width="0.22" text-anchor="middle" >4.25%</text>
<text x="152.3" y="660.6" font-size="11" fill="#333333" stroke="#333333" stroke-width="0.22" textLength="120.22" lengthAdjust="spacingAndGlyphs" >College of Public Service</text>
<text x="353.2" y="661.6" font-size="11" fill="#333333" stroke="#333333" stroke-width="0.22" text-anchor="middle" >1,170</text>
<text x="421.2" y="661.6" font-size="11" fill="#333333" stroke="#333333" stroke-width="0.22" text-anchor="middle" >1,154</text>
<text x="489.2" y="661.6" font-size="11" fill="#333333" stroke="#333333" stroke-width="0.22" text-anchor="middle" >8,085</text>
<text x="557.3" y="661.6" font-size="11" fill="#333333" stroke="#333333" stroke-width="0.22" text-anchor="middle" >7,730</text>
<text x="625.3" y="661.6" font-size="11" fill="#333333" stroke="#333333" stroke-width="0.22" text-anchor="middle" >4.59%</text>
<text x="693.3" y="661.6" font-size="11" fill="#333333" stroke="#333333" stroke-width="0.22" text-anchor="middle" >1,170</text>
<text x="761.2" y="661.6" font-size="11" fill="#333333" stroke="#333333" stroke-width="0.22" text-anchor="middle" >1,154</text>
<text x="829.1" y="661.6" font-size="11" fill="#333333" stroke="#333333" stroke-width="0.22" text-anchor="middle" >8,085</text>
<text x="897.0" y="661.6" font-size="11" fill="#333333" stroke="#333333" stroke-width="0.22" text-anchor="middle" >7,730</text>
<text x="965.0" y="661.6" font-size="11" fill="#333333" stroke="#333333" stroke-width="0.22" text-anchor="middle" >4.59%</text>
<text x="152.3" y="682.6" font-size="11" fill="#333333" stroke="#333333" stroke-width="0.22" textLength="118.39" lengthAdjust="spacingAndGlyphs" >Cross-College Programs</text>
<text x="353.2" y="683.6" font-size="11" fill="#333333" stroke="#333333" stroke-width="0.22" text-anchor="middle" >941</text>
<text x="421.2" y="683.6" font-size="11" fill="#333333" stroke="#333333" stroke-width="0.22" text-anchor="middle" >1,034</text>
<text x="489.2" y="683.6" font-size="11" fill="#333333" stroke="#333333" stroke-width="0.22" text-anchor="middle" >819</text>
<text x="557.3" y="683.6" font-size="11" fill="#333333" stroke="#333333" stroke-width="0.22" text-anchor="middle" >883</text>
<text x="625.3" y="683.6" font-size="11" fill="#333333" stroke="#333333" stroke-width="0.22" text-anchor="middle" >-7.25%</text>
<text x="693.3" y="683.6" font-size="11" fill="#333333" stroke="#333333" stroke-width="0.22" text-anchor="middle" >1,079</text>
<text x="761.2" y="683.6" font-size="11" fill="#333333" stroke="#333333" stroke-width="0.22" text-anchor="middle" >1,163</text>
<text x="829.1" y="683.6" font-size="11" fill="#333333" stroke="#333333" stroke-width="0.22" text-anchor="middle" >957</text>
<text x="897.0" y="683.6" font-size="11" fill="#333333" stroke="#333333" stroke-width="0.22" text-anchor="middle" >1,012</text>
<text x="965.0" y="683.6" font-size="11" fill="#333333" stroke="#333333" stroke-width="0.22" text-anchor="middle" >-5.43%</text>
<text x="152.3" y="704.6" font-size="11" fill="#333333" stroke="#333333" stroke-width="0.22" textLength="72.11" lengthAdjust="spacingAndGlyphs" >CU Concurrent</text>
<text x="353.2" y="705.6" font-size="11" fill="#333333" stroke="#333333" stroke-width="0.22" text-anchor="middle" >142</text>
<text x="421.2" y="705.6" font-size="11" fill="#333333" stroke="#333333" stroke-width="0.22" text-anchor="middle" >86</text>
<text x="489.2" y="705.6" font-size="11" fill="#333333" stroke="#333333" stroke-width="0.22" text-anchor="middle" >3</text>
<text x="557.3" y="705.6" font-size="11" fill="#333333" stroke="#333333" stroke-width="0.22" text-anchor="middle" >0</text>
<text x="693.3" y="705.6" font-size="11" fill="#333333" stroke="#333333" stroke-width="0.22" text-anchor="middle" >142</text>
<text x="761.2" y="705.6" font-size="11" fill="#333333" stroke="#333333" stroke-width="0.22" text-anchor="middle" >86</text>
<text x="829.1" y="705.6" font-size="11" fill="#333333" stroke="#333333" stroke-width="0.22" text-anchor="middle" >3</text>
<text x="897.0" y="705.6" font-size="11" fill="#333333" stroke="#333333" stroke-width="0.22" text-anchor="middle" >0</text>
<text x="152.3" y="726.6" font-size="11" fill="#333333" stroke="#333333" stroke-width="0.22" textLength="52.28" lengthAdjust="spacingAndGlyphs" >Non-Credit</text>
<text x="693.3" y="727.6" font-size="11" fill="#333333" stroke="#333333" stroke-width="0.22" text-anchor="middle" >163</text>
<text x="761.2" y="727.6" font-size="11" fill="#333333" stroke="#333333" stroke-width="0.22" text-anchor="middle" >118</text>
<text x="829.1" y="727.6" font-size="11" fill="#333333" stroke="#333333" stroke-width="0.22" text-anchor="middle" >519</text>
<text x="897.0" y="727.6" font-size="11" fill="#333333" stroke="#333333" stroke-width="0.22" text-anchor="middle" >565</text>
<text x="965.0" y="727.6" font-size="11" fill="#333333" stroke="#333333" stroke-width="0.22" text-anchor="middle" >-8.04%</text>
<text x="152.3" y="748.6" font-size="11" fill="#333333" stroke="#333333" stroke-width="0.22" textLength="55.71" lengthAdjust="spacingAndGlyphs" >Grand Total</text>
<text x="353.2" y="749.6" font-size="11" fill="#333333" stroke="#333333" stroke-width="0.22" text-anchor="middle" >9,738</text>
<text x="421.2" y="749.6" font-size="11" fill="#333333" stroke="#333333" stroke-width="0.22" text-anchor="middle" >9,981</text>
<text x="489.2" y="749.6" font-size="11" fill="#333333" stroke="#333333" stroke-width="0.22" text-anchor="middle" >114,035</text>
<text x="557.3" y="749.6" font-size="11" fill="#333333" stroke="#333333" stroke-width="0.22" text-anchor="middle" >117,489</text>
<text x="625.3" y="749.6" font-size="11" fill="#333333" stroke="#333333" stroke-width="0.22" text-anchor="middle" >-2.94%</text>
<text x="693.3" y="749.6" font-size="11" fill="#333333" stroke="#333333" stroke-width="0.22" text-anchor="middle" >11,751</text>
<text x="761.2" y="749.6" font-size="11" fill="#333333" stroke="#333333" stroke-width="0.22" text-anchor="middle" >12,105</text>
<text x="829.1" y="749.6" font-size="11" fill="#333333" stroke="#333333" stroke-width="0.22" text-anchor="middle" >122,908</text>
<text x="897.0" y="749.6" font-size="11" fill="#333333" stroke="#333333" stroke-width="0.22" text-anchor="middle" >126,839</text>
<text x="965.0" y="749.6" font-size="11" fill="#333333" stroke="#333333" stroke-width="0.22" text-anchor="middle" >-3.10%</text>
<text x="281.8" y="788.5" font-size="11" font-weight="700" fill="#111" textLength="15" lengthAdjust="spacingAndGlyphs" >***</text>
<text x="435.8" y="788.5" font-size="11" font-weight="700" fill="#111" textLength="15" lengthAdjust="spacingAndGlyphs" >***</text>
<text x="665.8" y="788.5" font-size="11" font-weight="700" fill="#111" textLength="15" lengthAdjust="spacingAndGlyphs" >***</text>
<text x="300.2" y="788.5" font-size="10" fill="#222" stroke="#222" stroke-width="0.22" textLength="132.6" lengthAdjust="spacingAndGlyphs" >Data current as of: 3/16/2026</text>
<text x="454.4" y="788.5" font-size="10" fill="#222" stroke="#222" stroke-width="0.22" textLength="207.6" lengthAdjust="spacingAndGlyphs" >Data Source: CU Information Warehouse (CIW)</text>
<text x="684.0" y="788.5" font-size="10" fill="#222" stroke="#222" stroke-width="0.22" textLength="173.6" lengthAdjust="spacingAndGlyphs" >Contact data@uccs.edu with questions</text>
<rect x="1002.5" y="55" width="1.5" height="744" fill="#f3f3f3" />
</svg>
</body></html>
